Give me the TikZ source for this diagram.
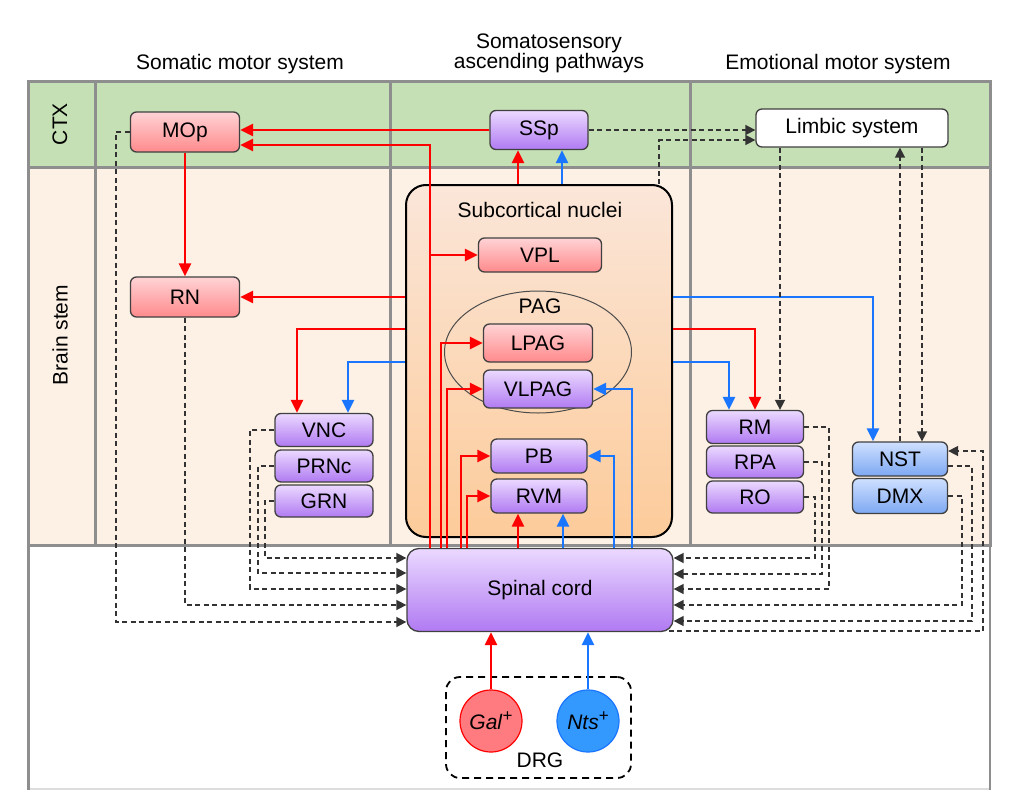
\documentclass[tikz,border=0pt]{standalone}
\usepackage{fontspec}
\setmainfont{Liberation Sans}
\usetikzlibrary{arrows.meta, shapes.geometric, positioning, calc}

\definecolor{ctxgreen}{HTML}{C5E0B4}
\definecolor{stempeach}{HTML}{FDF1E5}
\definecolor{gridgray}{HTML}{8E8E8E}
\definecolor{pathred}{HTML}{FF0000}
\definecolor{pathblue}{HTML}{1A75FF}
\definecolor{redtop}{HTML}{FFD3D5}
\definecolor{redbot}{HTML}{FF8A8C}
\definecolor{purtop}{HTML}{EBD9FF}
\definecolor{purbot}{HTML}{B07AF2}
\definecolor{blutop}{HTML}{CFE0FF}
\definecolor{blubot}{HTML}{7DA8F2}
\definecolor{subtop}{HTML}{FBE6D9}
\definecolor{subbot}{HTML}{FCCB9A}
\definecolor{galfill}{HTML}{FF7B80}
\definecolor{ntsfill}{HTML}{3399FF}

\newcommand{\plussup}{\raisebox{8pt}{\fontsize{17}{17}\selectfont +}}

\begin{document}
\begin{tikzpicture}[x=1pt, y=-1pt, font=\fontsize{21}{24}\selectfont,
    nucleus/.style={draw=black!75, line width=1.3pt, rounded corners=6pt, inner sep=0pt},
    rednuc/.style={nucleus, top color=redtop, bottom color=redbot},
    purnuc/.style={nucleus, top color=purtop, bottom color=purbot},
    blunuc/.style={nucleus, top color=blutop, bottom color=blubot},
    redpath/.style={pathred, line width=2.5pt, -{Triangle[length=13pt,width=12pt]}},
    bluepath/.style={pathblue, line width=2.5pt, -{Triangle[length=13pt,width=12pt]}},
    projpath/.style={black!80, line width=1.6pt, dash pattern=on 5pt off 3.5pt, -{Triangle[length=10pt,width=10pt]}},
    gridline/.style={gridgray, line width=3pt}]

      \useasboundingbox (0,0) rectangle (1029,790);

      % bands and grid
      \fill[ctxgreen] (28,81) rectangle (990,167);
      \fill[stempeach] (28,167) rectangle (990,545);
      \draw[gridgray!30, line width=1.5pt] (28,789) -- (990,789);
      \draw[gridline] (28,81) rectangle (990,545);
      \draw[gridline] (28,545) -- (28,790);
      \draw[gridgray, line width=2pt] (990,545) -- (990,790);
      \draw[gridline] (28,167) -- (990,167);
      \foreach \gx in {95,390,690}
        \draw[gridline] (\gx,81) -- (\gx,545);

      \node[anchor=base] (hsomatic) at (240,69) {Somatic motor system};
      \node[anchor=base, align=center, font=\fontsize{21}{20}\selectfont] (hsensory) at (549,68) {Somatosensory\\ascending pathways};
      \node[anchor=base] (hemotional) at (838,69) {Emotional motor system};
      \node[rotate=90] (lctx) at (60,124) {CTX};
      \node[rotate=90] (lstem) at (60,335) {Brain stem};

      % subcortical nuclei and PAG
      \node[draw, line width=2pt, rounded corners=20pt, top color=subtop, bottom color=subbot, minimum width=266pt, minimum height=352pt] (sub) at (539,361) {};
      \node[anchor=base] (subtitle) at (540,217) {Subcortical nuclei};
      \node[ellipse, draw=black!70, line width=1pt, minimum width=187pt, minimum height=122pt] (pag) at (538,352) {};
      \node[anchor=base] (pagtitle) at (540,313) {PAG};

      % nuclei
      \node[rednuc, minimum width=109pt, minimum height=40pt] (mop) at (185,132) {MOp};
      \node[rednuc, minimum width=109pt, minimum height=40pt] (rn) at (185,297) {RN};
      \node[purnuc, minimum width=98pt, minimum height=39pt] (ssp) at (539,130) {SSp};
      \node[nucleus, fill=white, minimum width=192pt, minimum height=38pt] (limbic) at (852,128) {Limbic system};
      \node[rednuc, minimum width=123pt, minimum height=34pt] (vpl) at (540,255) {VPL};
      \node[rednuc, minimum width=109pt, minimum height=38pt] (lpag) at (538,343) {LPAG};
      \node[purnuc, minimum width=109pt, minimum height=38pt] (vlpag) at (538,389) {VLPAG};
      \node[purnuc, minimum width=96pt, minimum height=34pt] (pb) at (539,456) {PB};
      \node[purnuc, minimum width=96pt, minimum height=34pt] (rvm) at (539,496) {RVM};
      \node[purnuc, minimum width=98pt, minimum height=33pt] (vnc) at (324,430) {VNC};
      \node[purnuc, minimum width=98pt, minimum height=32pt] (prnc) at (324,466) {PRNc};
      \node[purnuc, minimum width=98pt, minimum height=32pt] (grn) at (324,501) {GRN};
      \node[purnuc, minimum width=97pt, minimum height=33pt] (rm) at (755,427) {RM};
      \node[purnuc, minimum width=97pt, minimum height=32pt] (rpa) at (755,462) {RPA};
      \node[purnuc, minimum width=97pt, minimum height=32pt] (ro) at (755,497) {RO};
      \node[blunuc, minimum width=95pt, minimum height=34pt] (nst) at (900,459) {NST};
      \node[blunuc, minimum width=95pt, minimum height=35pt] (dmx) at (900,496) {DMX};
      \node[purnuc, rounded corners=12pt, minimum width=266pt, minimum height=83pt] (sc) at (540,590) {Spinal cord};

      % DRG
      \node[draw, line width=1.8pt, dash pattern=on 7pt off 5pt, rounded corners=14pt, minimum width=185pt, minimum height=101pt] (drg) at (538.5,727.5) {};
      \node[anchor=base] (drgtitle) at (540,767) {DRG};
      \node[circle, draw=pathred, line width=1.2pt, fill=galfill, minimum size=62pt, inner sep=0pt] (gal) at (491,721) {\textit{Gal}\plussup};
      \node[circle, draw=pathblue, line width=1.2pt, fill=ntsfill, minimum size=62pt, inner sep=0pt] (nts) at (588,721) {\textit{Nts}\plussup};

      % red and blue pathways
      \draw[redpath] (ssp.west) -- (mop.east |- ssp.west);
      \draw[redpath] (sc.north -| 430,0) -- (430,145) -- (mop.east |- 0,145);
      \draw[redpath] (430,255) -- (vpl.west);
      \draw[redpath] (sub.north -| 518,0) -- (ssp.south -| 518,0);
      \draw[bluepath] (sub.north -| 562,0) -- (ssp.south -| 562,0);
      \draw[redpath] (mop.south) -- (rn.north);
      \draw[redpath] (sub.west |- rn.east) -- (rn.east);
      \draw[redpath] (sub.west |- 0,329) -| (vnc.north -| 297,0);
      \draw[bluepath] (sub.west |- 0,362) -| (vnc.north -| 348,0);
      \draw[redpath] (sub.east |- 0,329) -| (rm.north);
      \draw[bluepath] (sub.east |- 0,362) -| (rm.north -| 729,0);
      \draw[bluepath] (sub.east |- 0,297) -| (nst.north -| 873,0);

      \draw[redpath] (sc.north -| 441,0) |- (lpag.west);
      \draw[redpath] (sc.north -| 447,0) |- (vlpag.west);
      \draw[redpath] (sc.north -| 461,0) |- (pb.west);
      \draw[redpath] (sc.north -| 467,0) |- (rvm.west);
      \draw[redpath] (sc.north -| 518,0) -- (rvm.south -| 518,0);
      \draw[bluepath] (sc.north -| 563,0) -- (rvm.south -| 563,0);
      \draw[bluepath] (sc.north -| 614,0) |- (pb.east);
      \draw[bluepath] (sc.north -| 632,0) |- (vlpag.east);
      \draw[redpath] (gal.north) -- (sc.south -| gal.north);
      \draw[bluepath] (nts.north) -- (sc.south -| nts.north);

      % dashed projections
      \draw[projpath] (ssp.east) -- (limbic.west |- ssp.east);
      \draw[projpath] (sub.north -| 659,0) |- (limbic.west |- 0,140);
      \draw[projpath] (limbic.south -| 780,0) -- (rm.north -| 780,0);
      \draw[projpath] (nst.north -| 900,0) -- (limbic.south -| 900,0);
      \draw[projpath] (limbic.south -| 922,0) -- (nst.north -| 922,0);

      \draw[projpath] (mop.west) -| (116,622) -- (sc.west |- 0,622);
      \draw[projpath] (rn.south) |- (sc.west |- 0,605);
      \draw[projpath] (vnc.west) -| (250,589) -- (sc.west |- 0,589);
      \draw[projpath] (prnc.west) -| (258,573) -- (sc.west |- 0,573);
      \draw[projpath] (grn.west) -| (265,558) -- (sc.west |- 0,558);

      \draw[projpath] (rm.east) -| (829,589) -- (sc.east |- 0,589);
      \draw[projpath] (rpa.east) -| (822,574) -- (sc.east |- 0,574);
      \draw[projpath] (ro.east) -| (815,558) -- (sc.east |- 0,558);
      \draw[projpath] (dmx.east) -| (962,605) -- (sc.east |- 0,605);
      \draw[projpath] (nst.east |- 0,466) -| (972,621) -- (sc.east |- 0,621);
      \draw[projpath] ([xshift=-5pt,yshift=1pt]sc.south east) -| (983,451) -- (nst.east |- 0,451);

\end{tikzpicture}
\end{document}
